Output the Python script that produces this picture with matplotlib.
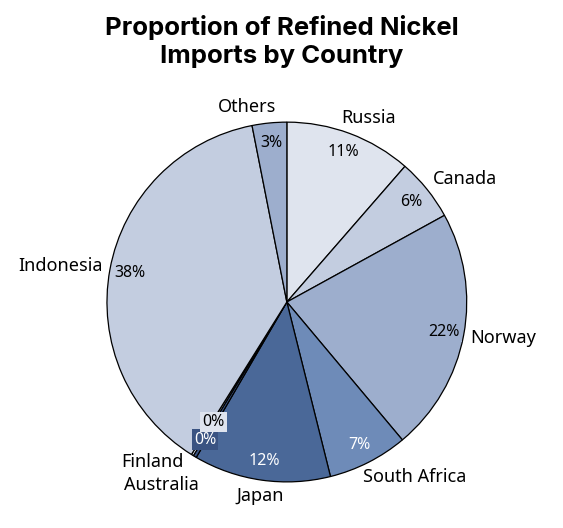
import numpy as np
import matplotlib
matplotlib.use("Agg")
from matplotlib import pyplot as plt

countries = ["Russia", "Canada", "Norway", "South Africa", "Japan",
             "Australia", "Finland", "Indonesia", "Others"]
shares = [11.4, 5.6, 21.9, 7.2, 12.3, 0.3, 0.2, 38.0, 3.1]
colors = ["#dfe4ee", "#c3cde0", "#9daecd", "#6e8bb8", "#4a6898",
          "#3a5382", "#dfe4ee", "#c3cde0", "#9daecd"]
text_colors = ["black", "black", "black", "white", "white",
               "white", "black", "black", "black"]

fig = plt.figure(figsize=(5.63, 5.28), dpi=100)
ax = fig.add_axes([0.19, 0.087, 0.639, 0.682])

wedges, labels, pcts = ax.pie(
    shares, labels=countries, colors=colors, startangle=90, counterclock=False,
    autopct=lambda p: "%d%%" % round(p), pctdistance=0.89, labeldistance=1.05,
    wedgeprops=dict(edgecolor="black", linewidth=0.9),
    textprops=dict(family="Noto Sans", fontsize=13))

for t, c, tc in zip(pcts, colors, text_colors):
    t.set_color(tc)
    t.set_fontsize(11.5)
    t.set_bbox(dict(facecolor=c, edgecolor="none", pad=1.5))

# outer labels sit a bit further out at top and bottom
for w, lab in zip(wedges, labels):
    ang = np.deg2rad((w.theta1 + w.theta2) / 2)
    lab.set_position((1.04 * np.cos(ang), 1.09 * np.sin(ang)))

# small hand nudges to match the original placement
x, y = labels[0].get_position()
labels[0].set_position((x - 0.06, y))
x, y = labels[3].get_position()
labels[3].set_position((x - 0.05, y))
labels[4].set_ha("center")
x, y = labels[8].get_position()
labels[8].set_position((x + 0.04, y))

# spread the two tiny slices so their labels don't overlap
x, y = pcts[6].get_position()
pcts[6].set_position((x + 0.06, y + 0.09))
x, y = labels[5].get_position()
labels[5].set_position((x + 0.045, y - 0.08))
x, y = labels[6].get_position()
labels[6].set_position((x - 0.03, y + 0.04))

ax.set_aspect("equal")
ax.set_xlim(-1, 1)
ax.set_ylim(-1, 1)

fig.suptitle("Proportion of Refined Nickel\nImports by Country", y=0.972,
             fontsize=18.5, fontweight="bold", family="Inter", linespacing=1.3)

fig.savefig("out.png", dpi=100)
